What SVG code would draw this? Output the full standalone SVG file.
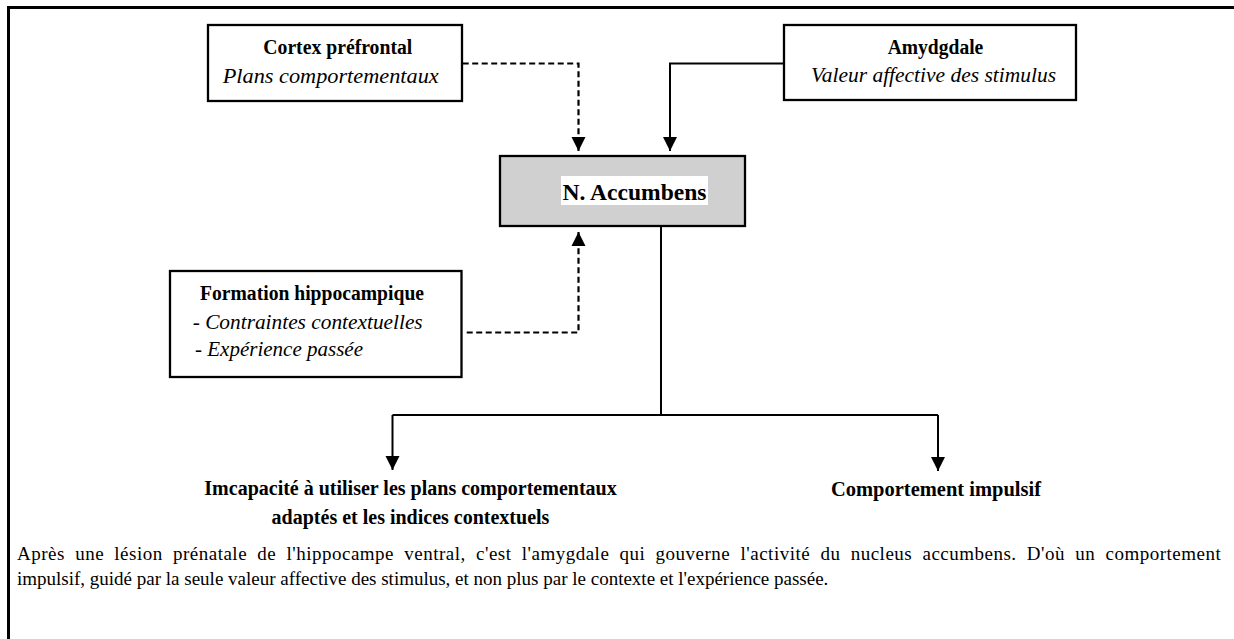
<svg xmlns="http://www.w3.org/2000/svg" width="1234" height="639" viewBox="0 0 1234 639">
<style>
.box{fill:#fff;stroke:#000;stroke-width:2.3}
.core{fill:#d0d0d0;stroke:#000;stroke-width:2.3}
.b{font-family:"Liberation Serif","Times New Roman",serif;font-weight:bold;fill:#000}
.i{font-family:"Liberation Serif","Times New Roman",serif;font-style:italic;fill:#000}
.r{font-family:"Liberation Serif","Times New Roman",serif;fill:#000}
.solid{fill:none;stroke:#000;stroke-width:2}
.dash{fill:none;stroke:#000;stroke-width:2.2;stroke-dasharray:6 3.5}
</style>
<defs>
<marker id="arr" markerUnits="userSpaceOnUse" markerWidth="14" markerHeight="16" refX="14" refY="7" orient="auto" viewBox="0 0 14 14">
<path d="M0,0 L14,7 L0,14 Z" fill="#000"/>
</marker>
</defs>
<rect width="1234" height="639" fill="#fff"/>
<path d="M8.5 645 V7.5 H1240" fill="none" stroke="#000" stroke-width="3"/>

<g id="connectors">
<path class="dash" d="M462.7 63.5 H578.5 V151" marker-end="url(#arr)"/>
<path class="solid" d="M783 63.5 H670 V151" marker-end="url(#arr)"/>
<path class="dash" d="M466.7 332.5 H578.5 V232" marker-end="url(#arr)"/>
<path class="solid" d="M661 227 V415"/>
<path class="solid" d="M392.5 415 H938"/>
<path class="solid" d="M392.5 415 V470" marker-end="url(#arr)"/>
<path class="solid" d="M938 415 V471" marker-end="url(#arr)"/>
</g>

<g id="cortex">
<rect class="box" x="208" y="25" width="254" height="76"/>
<text class="b" x="263.3" y="54" font-size="20" textLength="149" lengthAdjust="spacingAndGlyphs">Cortex préfrontal</text>
<text class="i" x="222.7" y="83" font-size="21" textLength="216" lengthAdjust="spacingAndGlyphs">Plans comportementaux</text>
</g>

<g id="amygdale">
<rect class="box" x="784" y="25" width="292" height="75"/>
<text class="b" x="887.7" y="54" font-size="20" textLength="95.6" lengthAdjust="spacingAndGlyphs">Amydgdale</text>
<text class="i" x="811" y="82" font-size="21" textLength="245" lengthAdjust="spacingAndGlyphs">Valeur affective des stimulus</text>
</g>

<g id="accumbens">
<rect class="core" x="500" y="156" width="245" height="70"/>
<rect x="561" y="176" width="147" height="29" fill="#fff"/>
<text class="b" x="562.5" y="199.5" font-size="24" textLength="144" lengthAdjust="spacingAndGlyphs">N. Accumbens</text>
</g>

<g id="hippocampe">
<rect class="box" x="170" y="271" width="291.5" height="106"/>
<text class="b" x="200" y="300" font-size="20" textLength="224" lengthAdjust="spacingAndGlyphs">Formation hippocampique</text>
<text class="i" x="192.7" y="329" font-size="21" textLength="230" lengthAdjust="spacingAndGlyphs">- Contraintes contextuelles</text>
<text class="i" x="195" y="356" font-size="21" textLength="168" lengthAdjust="spacingAndGlyphs">- Expérience passée</text>
</g>

<g id="incapacite">
<text class="b" x="410.5" y="495" font-size="20" text-anchor="middle">Imcapacité à utiliser les plans comportementaux</text>
<text class="b" x="410.5" y="524" font-size="20" text-anchor="middle">adaptés et les indices contextuels</text>
</g>

<g id="impulsif">
<text class="b" x="936" y="496" font-size="20.5" text-anchor="middle">Comportement impulsif</text>
</g>

<g id="legende">
<text class="r" x="17" y="560" font-size="19" word-spacing="5" letter-spacing="0.5">Après une lésion prénatale de l'hippocampe ventral, c'est l'amygdale qui gouverne l'activité du nucleus accumbens. D'où un comportement</text>
<text class="r" x="17" y="585" font-size="19">impulsif, guidé par la seule valeur affective des stimulus, et non plus par le contexte et l'expérience passée.</text>
</g>
</svg>
